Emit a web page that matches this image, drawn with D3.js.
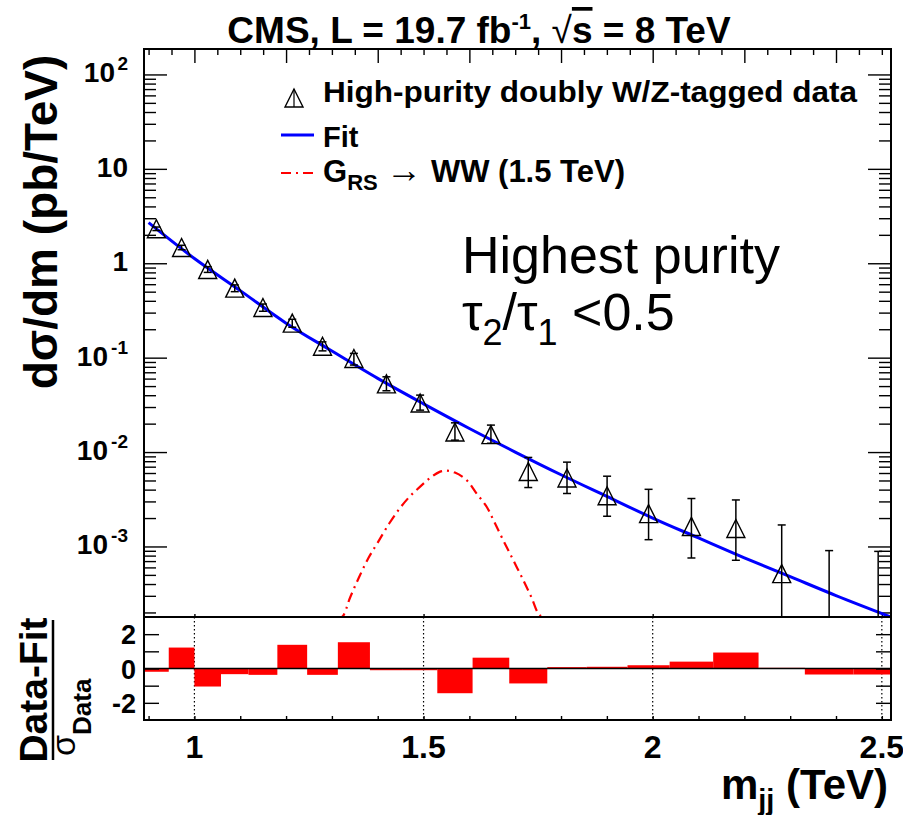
<!DOCTYPE html>
<html>
<head>
<meta charset="utf-8">
<script src="https://d3js.org/d3.v7.min.js"></script>
<style>
body { margin: 0; background: #fff; }
svg { font-family: "Liberation Sans", Arial, Helvetica, sans-serif; }
.axis path.domain { display: none; }
.axis line { stroke: #000; stroke-width: 1.4; }
</style>
</head>
<body>
<div class="chart"></div>
<script>
// Dijet mass bins (TeV) and the measured spectrum
var binEdges = [0.890, 0.944, 1.000, 1.058, 1.118, 1.181, 1.246, 1.313, 1.383, 1.455, 1.530,
                1.607, 1.687, 1.770, 1.856, 1.945, 2.037, 2.132, 2.231, 2.332, 2.438, 2.546];
var dataValues = [2.32, 1.47, 0.86, 0.545, 0.34, 0.232, 0.132, 0.098, 0.0528, 0.0331, 0.0163,
                  0.0153, 0.00622, 0.00531, 0.00345, 0.00223, 0.00163, 0.00155, 0.000516, 0, 0];
var dataLow = [2.22, 1.39, 0.80, 0.50, 0.31, 0.21, 0.118, 0.0835, 0.0446, 0.0278, 0.01337,
               0.0124, 0.00421, 0.00364, 0.00209, 0.00118, 0.000755, 0.000714, 0, 0, 0];
var dataHigh = [2.42, 1.55, 0.92, 0.59, 0.37, 0.255, 0.147, 0.111, 0.0627, 0.0401, 0.0204,
                0.0193, 0.00877, 0.00782, 0.00555, 0.00403, 0.00322, 0.00311, 0.00169, 0.000904, 0.000887];

// (Data-Fit)/sigma per bin
var pulls = [-0.19, 1.22, -1.05, -0.33, -0.37, 1.38, -0.37, 1.53, -0.1, -0.1, -1.44,
             0.63, -0.87, 0.08, 0.1, 0.19, 0.4, 0.93, 0.04, -0.35, -0.35];

// fit curve
var fitMass = [0.90, 1.0, 1.1, 1.2, 1.3, 1.4, 1.5, 1.6, 1.7, 1.8, 1.9, 2.0, 2.1, 2.2, 2.3, 2.4, 2.52];
var fitValue = [2.69, 1.122, 0.513, 0.232, 0.1175, 0.0603, 0.0324, 0.01778, 0.0100, 0.00575,
                0.00339, 0.00200, 0.00123, 0.000759, 0.000479, 0.000302, 0.000178];

// G_RS -> WW (1.5 TeV) signal shape
var sigMass = [1.31, 1.322, 1.34, 1.36, 1.38, 1.40, 1.425, 1.4485, 1.47, 1.492, 1.515, 1.535, 1.549,
               1.5685, 1.594, 1.615, 1.638, 1.655, 1.674, 1.695, 1.717, 1.735, 1.754, 1.77];
var sigValue = [0.00011, 0.000179, 0.00029, 0.000481, 0.000759, 0.0011, 0.00175, 0.00255, 0.00339,
                0.00428, 0.00535, 0.00617, 0.00635, 0.00606, 0.00504, 0.00368, 0.00262, 0.00179,
                0.00116, 0.000728, 0.000445, 0.000292, 0.000186, 0.00012];

// tick labels
var xTickValues = [1, 1.5, 2, 2.5];
var xTickText = ["1", "1.5", "2", "2.5"];
var yTickValues = [1e-3, 1e-2, 1e-1, 1, 10, 100];
var yTickBase = ["10", "10", "10", "1", "10", "10"];
var yTickExp = ["-3", "-2", "-1", "", "", "2"];
var ratioTickValues = [-2, 0, 2];

var svgWidth = 903;
var svgHeight = 815;
var frame = { left: 144, right: 891, top: 49, mid: 617, bottom: 720 };

var svg = d3.select(".chart")
    .append("svg")
    .attr("width", svgWidth)
    .attr("height", svgHeight);

// Scales
var x = d3.scaleLinear().domain([0.890, 2.520]).range([frame.left, frame.right]);
var y = d3.scaleLog().domain([1.79e-4, 186]).range([frame.mid, frame.top]).clamp(true);
var yr = d3.scaleLinear().domain([-3, 3]).range([frame.bottom, frame.mid]);

svg.append("clipPath").attr("id", "clipTop")
    .append("rect")
    .attr("x", frame.left).attr("y", frame.top)
    .attr("width", frame.right - frame.left).attr("height", frame.mid - frame.top);

// ---- upper panel axes ----
var logTicks = y.ticks().filter(d => d >= 1.79e-4 && d <= 186);
var isMajor = d => Math.abs(Math.log10(d) - Math.round(Math.log10(d))) < 1e-6;

svg.append("g").attr("class", "axis")
    .attr("transform", `translate(${frame.left},0)`)
    .call(d3.axisRight(y).tickValues(logTicks.filter(isMajor)).tickSize(23).tickFormat(""));
svg.append("g").attr("class", "axis")
    .attr("transform", `translate(${frame.left},0)`)
    .call(d3.axisRight(y).tickValues(logTicks.filter(d => !isMajor(d))).tickSize(12).tickFormat(""));
svg.append("g").attr("class", "axis")
    .attr("transform", `translate(${frame.right},0)`)
    .call(d3.axisLeft(y).tickValues(logTicks.filter(isMajor)).tickSize(23).tickFormat(""));
svg.append("g").attr("class", "axis")
    .attr("transform", `translate(${frame.right},0)`)
    .call(d3.axisLeft(y).tickValues(logTicks.filter(d => !isMajor(d))).tickSize(12).tickFormat(""));

var fineTicks = d3.range(0.9, 2.52, 0.05).map(d => +d.toFixed(2));
var tickMaj = fineTicks.filter(d => Math.abs(d * 5 - Math.round(d * 5)) < 1e-6);
svg.append("g").attr("class", "axis")
    .attr("transform", `translate(0,${frame.top})`)
    .call(d3.axisBottom(x).tickValues(tickMaj).tickSize(14).tickFormat(""));
svg.append("g").attr("class", "axis")
    .attr("transform", `translate(0,${frame.top})`)
    .call(d3.axisBottom(x).tickValues(fineTicks.filter(d => tickMaj.indexOf(d) < 0)).tickSize(6).tickFormat(""));
svg.append("g").attr("class", "axis")
    .attr("transform", `translate(0,${frame.mid})`)
    .call(d3.axisTop(x).tickValues(xTickValues).tickSize(3).tickFormat(""));

// y tick labels
var yLab = svg.append("g")
    .attr("font-weight", "bold")
    .attr("text-anchor", "end");
yTickValues.forEach(function(v, i) {
    var t = yLab.append("text")
        .attr("x", yTickExp[i] ? 128 - (yTickExp[i].length > 1 ? 20 : 13) : 128)
        .attr("y", y(v) + 8)
        .attr("font-size", 28);
    t.text(yTickBase[i]);
    if (yTickExp[i]) {
        yLab.append("text")
            .attr("x", 128)
            .attr("y", y(v) - 4)
            .attr("font-size", 19)
            .text(yTickExp[i]);
    }
});

// ---- fit and signal curves ----
var plotArea = svg.append("g").attr("clip-path", "url(#clipTop)");

var fitLine = d3.line()
    .x((d, i) => x(fitMass[i]))
    .y(d => y(d))
    .curve(d3.curveMonotoneX);
plotArea.append("path")
    .attr("d", fitLine(fitValue))
    .attr("fill", "none")
    .attr("stroke", "#0000ff")
    .attr("stroke-width", 3);

var sigLine = d3.line()
    .x((d, i) => x(sigMass[i]))
    .y(d => y(d))
    .curve(d3.curveCatmullRom.alpha(0.5));
plotArea.append("path")
    .attr("d", sigLine(sigValue))
    .attr("fill", "none")
    .attr("stroke", "#ff0000")
    .attr("stroke-width", 2.2)
    .attr("stroke-dasharray", "10,5,2,5");

// ---- data points ----
var centers = dataValues.map((d, i) => (binEdges[i] + binEdges[i + 1]) / 2);
var errGroup = plotArea.append("g").attr("stroke", "#000").attr("stroke-width", 1.5);
dataValues.forEach(function(v, i) {
    var cx = x(centers[i]);
    var yHi = y(dataHigh[i]);
    var yLo = dataLow[i] > 0 ? y(dataLow[i]) : frame.mid + 2;
    errGroup.append("line").attr("x1", cx).attr("x2", cx).attr("y1", yHi).attr("y2", yLo);
    errGroup.append("line").attr("x1", cx - 4).attr("x2", cx + 4).attr("y1", yHi).attr("y2", yHi);
    if (dataLow[i] > 0) {
        errGroup.append("line").attr("x1", cx - 4).attr("x2", cx + 4).attr("y1", yLo).attr("y2", yLo);
    }
});

plotArea.selectAll("path.marker")
    .data(dataValues.map((d, i) => ({ m: centers[i], v: d })).filter(d => d.v > 0))
    .enter()
    .append("path")
    .attr("class", "marker")
    .attr("d", "M0,-9L9,9L-9,9Z")
    .attr("transform", d => `translate(${x(d.m)},${y(d.v)})`)
    .attr("fill", "none")
    .attr("stroke", "#000")
    .attr("stroke-width", 1.4);

// ---- lower panel ----
var gridGroup = svg.append("g");
gridGroup.selectAll("line")
    .data(xTickValues)
    .enter()
    .append("line")
    .attr("x1", d => x(d)).attr("x2", d => x(d))
    .attr("y1", frame.mid).attr("y2", frame.bottom)
    .attr("stroke", "#000")
    .attr("stroke-width", 1.2)
    .attr("stroke-dasharray", "1.5,2.5");

svg.append("g").selectAll("rect")
    .data(pulls)
    .enter()
    .append("rect")
    .attr("x", (d, i) => x(binEdges[i]))
    .attr("width", (d, i) => Math.min(x(binEdges[i + 1]), frame.right) - x(binEdges[i]))
    .attr("y", d => yr(Math.max(d, 0)))
    .attr("height", d => Math.abs(yr(d) - yr(0)))
    .attr("fill", "#ff0000");

svg.append("line")
    .attr("x1", frame.left).attr("x2", frame.right)
    .attr("y1", yr(0)).attr("y2", yr(0))
    .attr("stroke", "#000").attr("stroke-width", 1.5);

var ratioTicks = d3.range(-3, 4);
svg.append("g").attr("class", "axis")
    .attr("transform", `translate(${frame.left},0)`)
    .call(d3.axisRight(yr).tickValues(ratioTicks.filter(d => Math.abs(d) < 3)).tickSize(15).tickFormat(""));
svg.append("g").attr("class", "axis")
    .attr("transform", `translate(${frame.right},0)`)
    .call(d3.axisLeft(yr).tickValues(ratioTicks.filter(d => Math.abs(d) < 3)).tickSize(15).tickFormat(""));
svg.append("g").attr("class", "axis")
    .attr("transform", `translate(0,${frame.bottom})`)
    .call(d3.axisTop(x).tickValues(d3.range(0.9, 2.52, 0.1).map(d => +d.toFixed(1))).tickSize(4).tickFormat(""));

svg.append("g")
    .attr("font-weight", "bold")
    .attr("font-size", 27)
    .attr("text-anchor", "end")
    .selectAll("text")
    .data(ratioTickValues)
    .enter()
    .append("text")
    .attr("x", 136)
    .attr("y", d => yr(d) + 10)
    .text(d => d);

svg.append("g")
    .attr("font-weight", "bold")
    .attr("font-size", 32)
    .attr("text-anchor", "middle")
    .selectAll("text")
    .data(xTickValues)
    .enter()
    .append("text")
    .attr("x", d => x(d))
    .attr("y", 758)
    .text((d, i) => xTickText[i]);

// frames
[[frame.top, frame.mid], [frame.mid, frame.bottom]].forEach(function(p) {
    svg.append("rect")
        .attr("x", frame.left).attr("y", p[0])
        .attr("width", frame.right - frame.left).attr("height", p[1] - p[0])
        .attr("fill", "none").attr("stroke", "#000").attr("stroke-width", 2);
});

// ---- titles ----
var title = svg.append("text")
    .attr("x", 479).attr("y", 43)
    .attr("text-anchor", "middle")
    .attr("font-weight", "bold")
    .attr("font-size", 37);
title.append("tspan").text("CMS, L = 19.7 fb");
title.append("tspan").attr("font-size", 22).attr("dy", -14).text("-1");
title.append("tspan").attr("dy", 14).text(", ");
title.append("tspan").attr("font-weight", "normal").text("\u221A");
title.append("tspan").attr("text-decoration", "overline").text("s");
title.append("tspan").text(" = 8 TeV");

svg.append("text")
    .attr("transform", "translate(57,222) rotate(-90)")
    .attr("text-anchor", "middle")
    .attr("font-weight", "bold")
    .attr("font-size", 46)
    .text("d\u03C3/dm (pb/TeV)");

var xTitle = svg.append("text")
    .attr("x", 888).attr("y", 799)
    .attr("text-anchor", "end")
    .attr("font-weight", "bold")
    .attr("font-size", 42);
xTitle.append("tspan").text("m");
xTitle.append("tspan").attr("font-size", 29).attr("dy", 11).text("jj");
xTitle.append("tspan").attr("dy", -11).text(" (TeV)");

var ratioTitle = svg.append("g").attr("transform", "translate(53,690) rotate(-90)");
ratioTitle.append("text")
    .attr("x", 0).attr("y", -6)
    .attr("text-anchor", "middle")
    .attr("font-weight", "bold")
    .attr("font-size", 39)
    .text("Data-Fit");
ratioTitle.append("line")
    .attr("x1", -70).attr("x2", 70).attr("y1", 0).attr("y2", 0)
    .attr("stroke", "#000").attr("stroke-width", 2.5);
var sigmaText = ratioTitle.append("text")
    .attr("x", -66).attr("y", 22)
    .attr("font-weight", "bold")
    .attr("font-size", 34);
sigmaText.append("tspan").attr("font-weight", "normal").text("\u03C3");
sigmaText.append("tspan").attr("font-size", 26).attr("dy", 16).text("Data");

// ---- legend ----
var legend = svg.append("g");
legend.append("path")
    .attr("d", "M0,-9L9,9L-9,9Z")
    .attr("transform", "translate(294,98)")
    .attr("fill", "none").attr("stroke", "#000").attr("stroke-width", 1.4);
legend.append("line")
    .attr("x1", 294).attr("x2", 294).attr("y1", 89).attr("y2", 107)
    .attr("stroke", "#000").attr("stroke-width", 1.2);
legend.append("line")
    .attr("x1", 281).attr("x2", 314).attr("y1", 135).attr("y2", 135)
    .attr("stroke", "#0000ff").attr("stroke-width", 3);
legend.append("line")
    .attr("x1", 281).attr("x2", 314).attr("y1", 173).attr("y2", 173)
    .attr("stroke", "#ff0000").attr("stroke-width", 2.2)
    .attr("stroke-dasharray", "10,5,2,5");

var legText = legend.append("g").attr("font-weight", "bold").attr("font-size", 29);
legText.append("text").attr("x", 323).attr("y", 102)
    .attr("textLength", 534).attr("lengthAdjust", "spacingAndGlyphs")
    .text("High-purity doubly W/Z-tagged data");
legText.append("text").attr("x", 323).attr("y", 147).text("Fit");
var gText = legText.append("text").attr("x", 323).attr("y", 182).attr("font-size", 31);
gText.append("tspan").text("G");
gText.append("tspan").attr("font-size", 22).attr("dy", 8).text("RS");
gText.append("tspan").attr("dy", -8).attr("font-weight", "normal").text(" ");
gText.append("tspan").attr("font-weight", "normal").attr("font-size", 36).text("\u2192");
gText.append("tspan").text(" WW (1.5 TeV)");

// category label
var cat = svg.append("g").attr("font-size", 52);
cat.append("text").attr("x", 462).attr("y", 273).text("Highest purity");
var tau = cat.append("text").attr("x", 462).attr("y", 330);
tau.append("tspan").text("\u03C4");
tau.append("tspan").attr("font-size", 36).attr("dy", 15).text("2");
tau.append("tspan").attr("dy", -15).text("/\u03C4");
tau.append("tspan").attr("font-size", 36).attr("dy", 15).text("1");
tau.append("tspan").attr("dy", -15).text(" <0.5");
</script>
</body>
</html>
